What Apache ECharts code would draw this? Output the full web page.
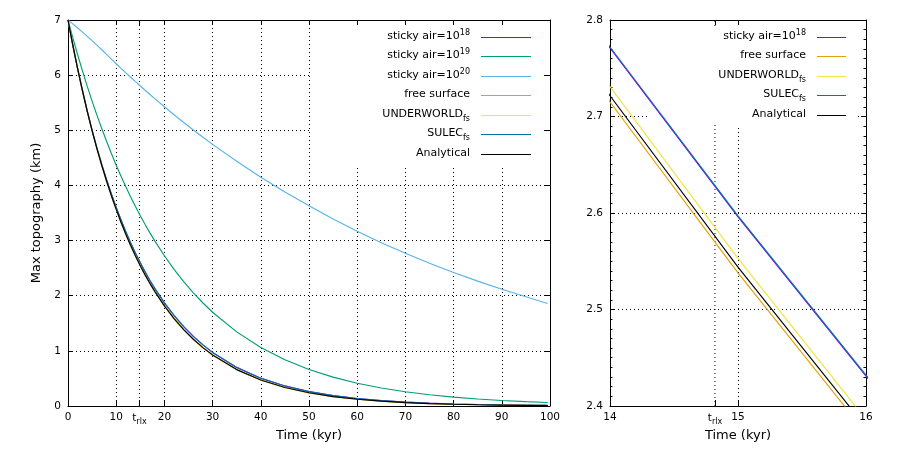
<!DOCTYPE html>
<html><head><meta charset="utf-8">
<script src="https://cdn.jsdelivr.net/npm/echarts@6/dist/echarts.min.js"></script>
<style>html,body{margin:0;padding:0;background:#fff}#c{width:901px;height:451px}</style>
</head><body><div id="c"></div>
<script>
// ---- data ----
const time = [0,1,2,3,4,5,6,7,8,9,10,11,12,13,14,15,16,17,18,20,22,24,26,28,30,35,40,45,50,55,60,65,70,75,80,85,90,95,99.5];
const stickyAir18 = [7.000,6.545,6.119,5.720,5.347,4.999,4.678,4.382,4.104,3.844,3.600,3.372,3.158,2.958,2.771,2.596,2.431,2.276,2.132,1.870,1.641,1.439,1.262,1.108,0.972,0.700,0.505,0.364,0.262,0.189,0.136,0.0983,0.0708,0.0510,0.0368,0.0265,0.0191,0.0138,0.0101];
const stickyAir19 = [7.000,6.677,6.370,6.076,5.796,5.529,5.274,5.031,4.800,4.578,4.367,4.166,3.974,3.791,3.616,3.450,3.291,3.139,2.994,2.725,2.479,2.256,2.053,1.868,1.700,1.344,1.061,0.839,0.662,0.523,0.413,0.327,0.258,0.204,0.161,0.127,0.1006,0.0795,0.064];
const stickyAir20 = [7.000,6.929,6.856,6.781,6.704,6.625,6.544,6.461,6.376,6.291,6.207,6.124,6.042,5.962,5.882,5.804,5.726,5.650,5.574,5.426,5.282,5.142,5.006,4.873,4.744,4.44,4.15,3.88,3.63,3.39,3.17,2.96,2.77,2.59,2.42,2.265,2.118,1.98,1.86];
const freeSurface = [7.000,6.527,6.101,5.703,5.331,4.983,4.658,4.355,4.070,3.805,3.556,3.324,3.108,2.905,2.715,2.538,2.372,2.218,2.073,1.811,1.582,1.383,1.208,1.055,0.923,0.658,0.470,0.335,0.239,0.171,0.122,0.0870,0.0621,0.0443,0.0316,0.0225,0.0161,0.0115,0.0085];
const underworldFs = [7.000,6.566,6.137,5.737,5.363,5.012,4.685,4.380,4.094,3.827,3.577,3.344,3.126,2.922,2.731,2.553,2.386,2.231,2.085,1.821,1.592,1.391,1.215,1.062,0.928,0.662,0.473,0.337,0.241,0.172,0.122,0.0875,0.0624,0.0446,0.0318,0.0227,0.0162,0.0115,0.0085];
const sulecFs = [7.000,6.546,6.120,5.722,5.349,5.001,4.680,4.384,4.106,3.846,3.602,3.374,3.160,2.960,2.772,2.597,2.432,2.277,2.133,1.871,1.642,1.440,1.263,1.108,0.972,0.699,0.504,0.363,0.261,0.188,0.135,0.0978,0.0704,0.0507,0.0366,0.0263,0.0190,0.0137,0.0100];
const analytical = [7.000,6.543,6.116,5.717,5.344,4.995,4.669,4.365,4.080,3.814,3.565,3.332,3.115,2.912,2.7215,2.544,2.378,2.223,2.078,1.815,1.586,1.386,1.211,1.058,0.925,0.660,0.471,0.336,0.240,0.171,0.122,0.0872,0.0622,0.0444,0.0317,0.0226,0.0161,0.0115,0.0085];
const tRlx = 14.82;
const seriesNames = ['sticky air=10{sup|18}','sticky air=10{sup|19}','sticky air=10{sup|20}','free surface','UNDERWORLD{sub|fs}','SULEC{sub|fs}','Analytical'];
const seriesValues = [stickyAir18, stickyAir19, stickyAir20, freeSurface, underworldFs, sulecFs, analytical];
const rightPanelSeries = [0, 3, 4, 5, 6];
const leftRange = {min: 0, max: 100, interval: 10, ymin: 0, ymax: 7, yint: 1};
const rightRange = {min: 14, max: 16, interval: 1, ymin: 2.4, ymax: 2.8, yint: 0.1};

// ---- styles ----
const colors = ['#9400d3','#009e73','#56b4e9','#e69f00','#f0e442','#0072b2','#000000'];
const FONT = 'DejaVu Sans';
const BLACK = '#000';
const LW = 1.15;
const richStyles = {
  sup: {fontSize: 8, verticalAlign: 'top', fontFamily: FONT, color: BLACK},
  sub: {fontSize: 8, verticalAlign: 'bottom', fontFamily: FONT, color: BLACK}
};

const chart = echarts.init(document.getElementById('c'), null, {renderer: 'canvas'});

function xAx(grid, r, pos, main) {
  return {
    type: 'value', gridIndex: grid, position: pos, min: r.min, max: r.max, interval: r.interval,
    axisLine: {show: true, onZero: false, lineStyle: {color: BLACK, width: 1}},
    axisTick: {show: true, inside: true, length: 5, lineStyle: {color: BLACK}},
    axisLabel: {show: main, color: BLACK, fontSize: 10.5, fontFamily: FONT, margin: 6},
    splitLine: {show: main, lineStyle: {color: BLACK, width: 1, type: [1, 3]}},
    name: main ? 'Time (kyr)' : '', nameLocation: 'middle', nameGap: 23,
    nameTextStyle: {fontSize: 13, color: BLACK, fontFamily: FONT}
  };
}
function yAx(grid, r, pos, main, minor, name) {
  return {
    type: 'value', gridIndex: grid, position: pos, min: r.ymin, max: r.ymax, interval: r.yint,
    axisLine: {show: true, onZero: false, lineStyle: {color: BLACK, width: 1}},
    axisTick: {show: true, inside: true, length: 5, lineStyle: {color: BLACK}},
    minorTick: {show: minor, splitNumber: 10, length: 2.5, lineStyle: {color: BLACK}},
    axisLabel: {show: main, color: BLACK, fontSize: 10.5, fontFamily: FONT, margin: 7,
      formatter: v => (r.yint < 1 ? v.toFixed(1) : String(v))},
    splitLine: {show: main, lineStyle: {color: BLACK, width: 1, type: [1, 3]}},
    name: name || '', nameLocation: 'middle', nameGap: 25, nameRotate: 90,
    nameTextStyle: {fontSize: 13, color: BLACK, fontFamily: FONT}
  };
}

const series = [];
seriesValues.forEach((vals, i) => {
  series.push({
    type: 'line', xAxisIndex: 0, yAxisIndex: 0, silent: true, symbol: 'none', z: 2,
    data: time.map((t, k) => [t, vals[k]]),
    lineStyle: {color: colors[i], width: LW}
  });
});
rightPanelSeries.forEach(i => {
  series.push({
    type: 'line', xAxisIndex: 2, yAxisIndex: 2, silent: true, symbol: 'none', z: 2,
    data: time.map((t, k) => [t, seriesValues[i][k]]),
    lineStyle: {color: colors[i], width: LW}
  });
});
function trlxSeries(xi, yi, r) {
  return {
    type: 'line', xAxisIndex: xi, yAxisIndex: yi, silent: true, z: 0,
    symbol: 'circle', symbolSize: 0, showSymbol: true,
    lineStyle: {color: BLACK, width: 1, type: [1, 3]},
    data: [
      {value: [tRlx, r.ymin], label: {show: true, position: 'bottom', distance: 4,
        formatter: 't{sub|rlx}', color: BLACK, fontSize: 10.5, fontFamily: FONT, lineHeight: 16, rich: richStyles}},
      [tRlx, r.ymax]
    ]
  };
}
series.push(trlxSeries(0, 0, leftRange));
series.push(trlxSeries(2, 2, rightRange));

// key boxes (opaque to grid lines only)
const graphic = [
  {type: 'rect', z: 1, silent: true, shape: {x: 312, y: 26, width: 229, height: 139}, style: {fill: '#fff'}},
  {type: 'rect', z: 1, silent: true, shape: {x: 648, y: 26, width: 207, height: 99}, style: {fill: '#fff'}}
];
function addKey(indices, textRight, lineX0, lineX1, y0, dy) {
  indices.forEach((i, row) => {
    const y = Math.round(y0 + row * dy) + 0.5;
    graphic.push({type: 'text', z: 3, silent: true, x: textRight, y: y - 1,
      style: {text: seriesNames[i], rich: richStyles, align: 'right', verticalAlign: 'middle',
        fontSize: 11, fontFamily: FONT, fill: BLACK, lineHeight: 16}});
    graphic.push({type: 'line', z: 3, silent: true,
      shape: {x1: lineX0, y1: y, x2: lineX1, y2: y}, style: {stroke: colors[i], lineWidth: 1}});
  });
}
addKey([0,1,2,3,4,5,6], 470, 481, 531, 37, 19.45);
addKey(rightPanelSeries, 806, 817, 846, 37, 19.45);

chart.setOption({
  animation: false,
  backgroundColor: '#fff',
  grid: [
    {left: 68, top: 20, width: 482, height: 386},
    {left: 610, top: 20, width: 256, height: 386}
  ],
  xAxis: [xAx(0, leftRange, 'bottom', true), xAx(0, leftRange, 'top', false),
          xAx(1, rightRange, 'bottom', true), xAx(1, rightRange, 'top', false)],
  yAxis: [yAx(0, leftRange, 'left', true, false, 'Max topography (km)'), yAx(0, leftRange, 'right', false, false),
          yAx(1, rightRange, 'left', true, true), yAx(1, rightRange, 'right', false, true)],
  series: series,
  graphic: graphic
});

// solid tick marks at t_rlx on bottom and top borders, positioned through the axis scales
const tickGraphics = [];
[[0, 0, leftRange], [2, 2, rightRange]].forEach(([xi, yi, r]) => {
  const pb = chart.convertToPixel({xAxisIndex: xi, yAxisIndex: yi}, [tRlx, r.ymin]);
  const pt = chart.convertToPixel({xAxisIndex: xi, yAxisIndex: yi}, [tRlx, r.ymax]);
  const x = Math.round(pb[0]) + 0.5;
  tickGraphics.push({type: 'line', z: 3, silent: true, shape: {x1: x, y1: pb[1], x2: x, y2: pb[1] - 6}, style: {stroke: BLACK, lineWidth: 1}});
  tickGraphics.push({type: 'line', z: 3, silent: true, shape: {x1: x, y1: pt[1], x2: x, y2: pt[1] + 5}, style: {stroke: BLACK, lineWidth: 1}});
});
chart.setOption({graphic: graphic.concat(tickGraphics)});
</script></body></html>
